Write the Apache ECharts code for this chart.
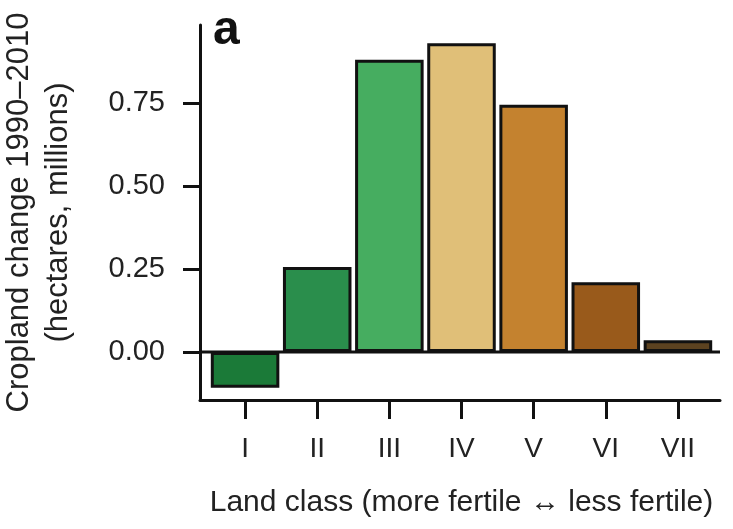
<!DOCTYPE html>
<html>
<head>
<meta charset="utf-8">
<script src="https://cdn.jsdelivr.net/npm/echarts@6/dist/echarts.min.js"></script>
<style>html,body{margin:0;padding:0;background:#fff}#c{width:733px;height:529px}</style>
</head>
<body>
<div id="c"></div>
<script>
const categories = ['I', 'II', 'III', 'IV', 'V', 'VI', 'VII'];
const values = [-0.108, 0.256, 0.88, 0.93, 0.745, 0.21, 0.035];
const colors = ['#1b7a38', '#2a8e4c', '#46ad60', '#e0bf78', '#c4822f', '#995a1b', '#5c4220'];
const yTicks = [0, 0.25, 0.5, 0.75];
const yTickLabels = ['0.00', '0.25', '0.50', '0.75'];
const yMin = -0.145, yMax = 0.985;

const font = 'Liberation Sans, Arial, sans-serif';
const chart = echarts.init(document.getElementById('c'));
chart.setOption({
  animation: false,
  grid: [
    {left: 209, right: 19, top: 25, bottom: 129, outerBoundsMode: 'none', containLabel: false},
    {left: 200, right: 13, top: 25, bottom: 129, outerBoundsMode: 'none', containLabel: false}
  ],
  xAxis: [
    {
      type: 'category', gridIndex: 0, data: categories,
      axisLine: {show: false, onZero: false},
      axisTick: {show: true, alignWithLabel: true, length: 19, lineStyle: {color: '#111', width: 3}},
      axisLabel: {color: '#222', fontSize: 28, fontFamily: font, margin: 35},
      name: 'Land class (more fertile \u2194 less fertile)',
      nameLocation: 'middle', nameGap: 88,
      nameTextStyle: {color: '#222', fontSize: 30, fontFamily: font}
    },
    {
      type: 'value', gridIndex: 1, min: 0, max: 1,
      axisLine: {show: true, onZero: false, lineStyle: {color: '#111', width: 3}},
      axisTick: {show: false}, axisLabel: {show: false}, splitLine: {show: false}
    }
  ],
  yAxis: [
    {
      type: 'value', gridIndex: 0, min: yMin, max: yMax, show: false
    },
    {
      type: 'value', gridIndex: 1, min: yMin, max: yMax,
      axisLine: {show: true, onZero: false, lineStyle: {color: '#111', width: 3}},
      axisTick: {show: true, length: 17, customValues: yTicks, lineStyle: {color: '#111', width: 3}},
      axisLabel: {
        customValues: yTicks, color: '#222', fontSize: 29, fontFamily: font, margin: 35,
        formatter: v => yTickLabels[yTicks.findIndex(t => Math.abs(t - v) < 1e-9)]
      },
      splitLine: {show: false},
      name: 'Cropland change 1990\u20132010\n(hectares, millions)',
      nameLocation: 'middle', nameGap: 122, nameRotate: 90,
      nameTextStyle: {color: '#222', fontSize: 31, fontFamily: font, lineHeight: 39, align: 'center'}
    }
  ],
  title: {
    text: 'a', left: 208, top: 2,
    textStyle: {fontSize: 48, fontWeight: 'bold', color: '#111', fontFamily: font}
  },
  series: [
    {
      type: 'line', xAxisIndex: 1, yAxisIndex: 1, z: 1,
      data: [[0, 0], [1, 0]], symbol: 'none', silent: true,
      lineStyle: {color: '#111', width: 3}
    },
    {
      type: 'bar', xAxisIndex: 0, yAxisIndex: 0, z: 3,
      barCategoryGap: '5%',
      data: values.map((v, i) => ({value: v, itemStyle: {color: colors[i]}})),
      itemStyle: {borderColor: '#111', borderWidth: 3}
    }
  ]
});
</script>
</body>
</html>
